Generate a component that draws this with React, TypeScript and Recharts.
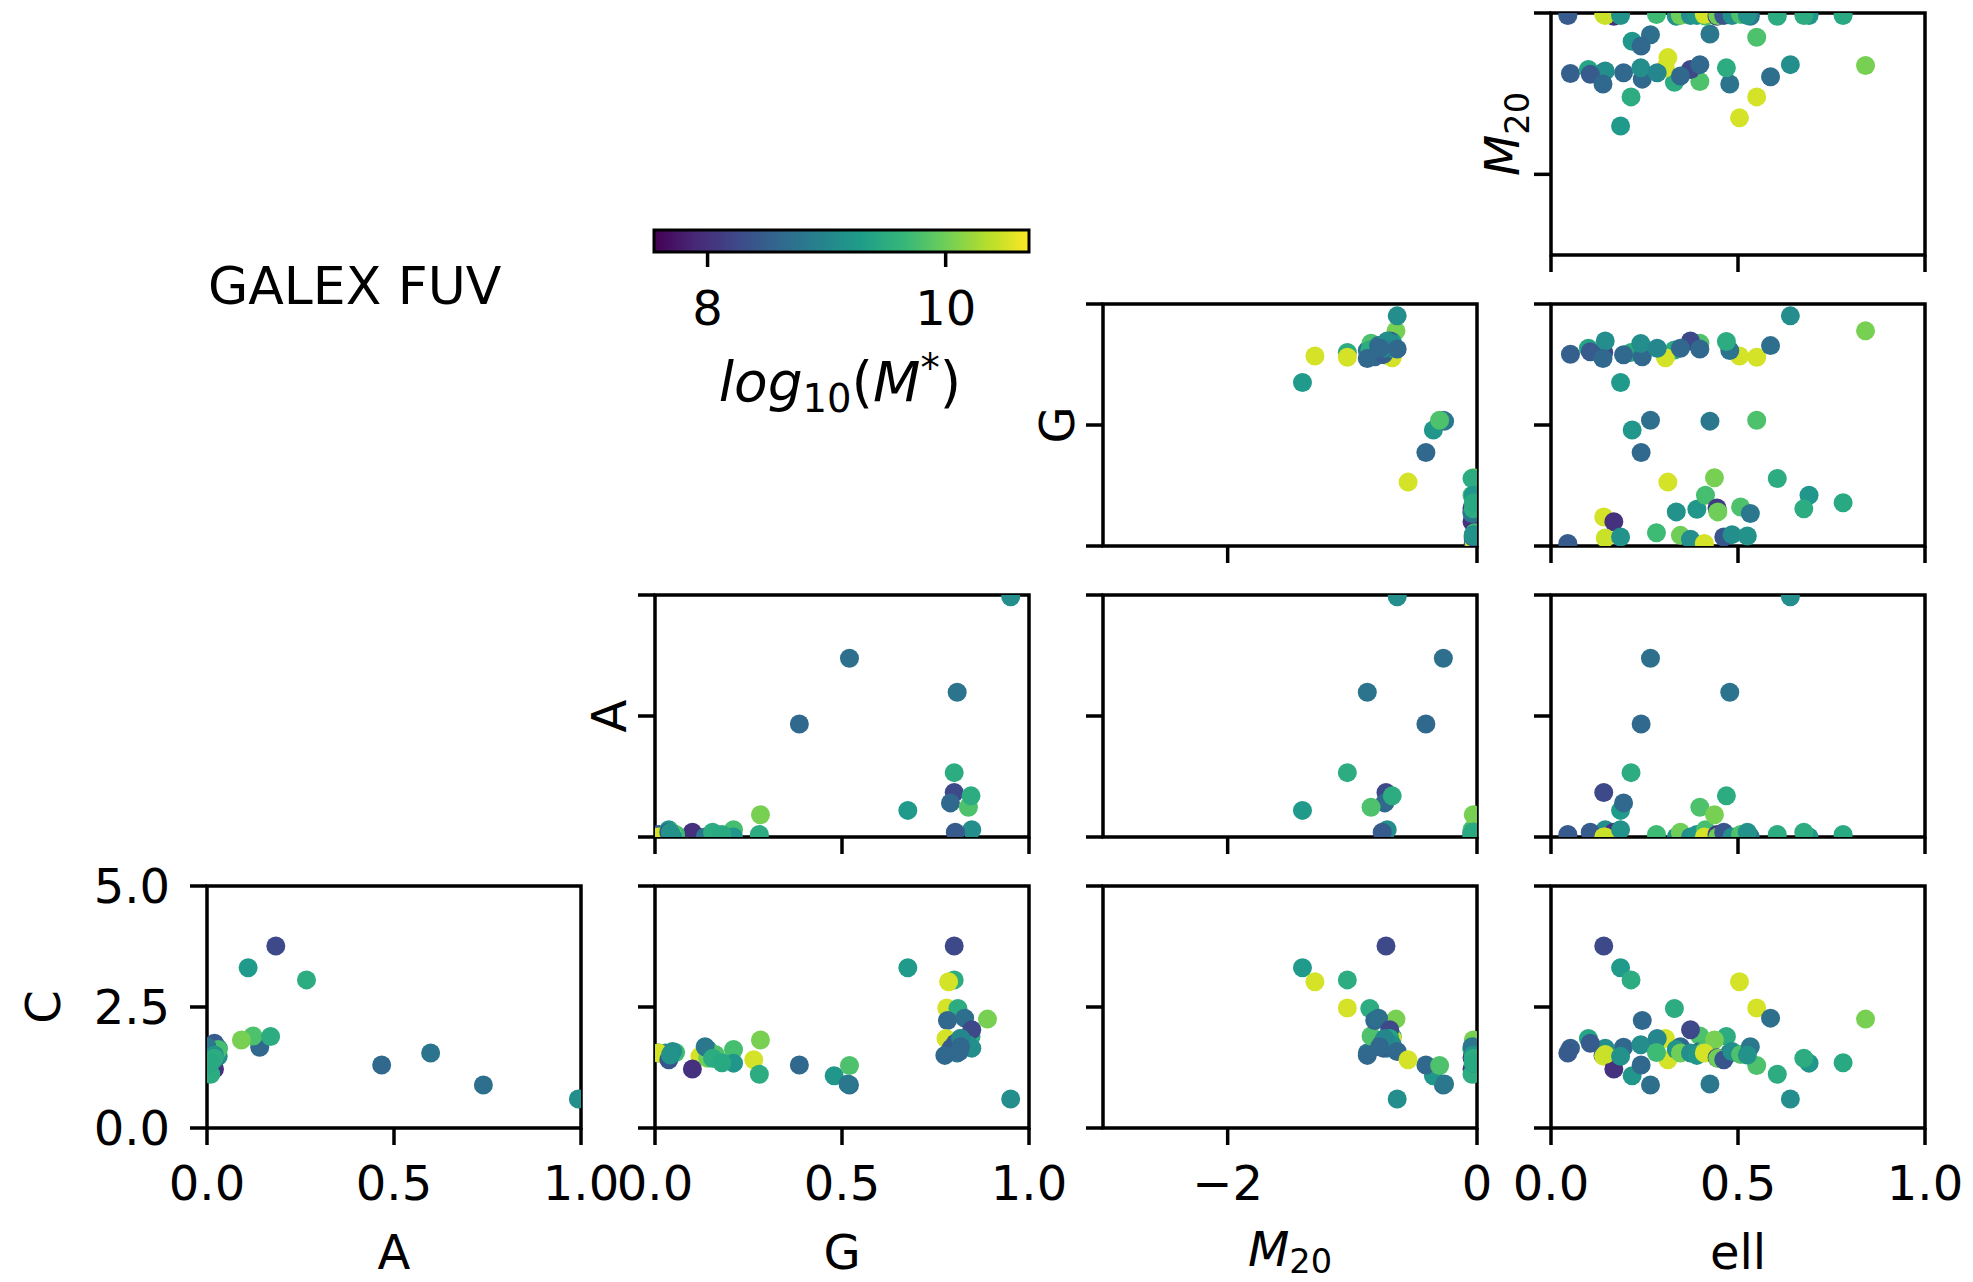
import { ScatterChart, Scatter, XAxis, YAxis, ReferenceArea } from 'recharts';

// one entry per galaxy: concentration, asymmetry, Gini, M20, ellipticity, log10 stellar mass
const C_VAL = [
  3.76, 3.31, 3.06, 3.02, 2.48, 2.25, 0.6, 1.55, 1.67, 1.9,
  1.89, 2.47, 2.22, 2.27, 1.85, 2.03, 1.65, 1.65, 1.85, 1.75,
  1.5, 1.72, 1.85, 1.68, 1.58,
  0.89, 1.08, 1.3, 0.91, 1.29, 1.41,
  1.55, 1.48, 1.22, 1.52, 1.48, 1.56, 1.62, 1.55, 1.55, 1.5,
  1.62, 1.82, 1.55, 1.45, 1.44, 1.41, 1.58, 1.52, 1.68, 1.51,
  1.11, 1.34, 1.44, 1.35,
];
const A_VAL = [
  0.184, 0.11, 0.266, -0.1, -0.1, -0.1, 0.993, 0.598, 0.141, 0.123,
  0.17, -0.1, -0.1, -0.1, -0.1, -0.1, 0.03, -0.1, -0.1, 0.02,
  -0.1, -0.1, -0.1, -0.1, -0.1,
  0.739, -0.1, 0.467, -0.1, -0.1, -0.1,
  0.01, 0.0, 0.02, 0.0, 0.03, 0.01, 0.0, 0.02, 0.0, 0.01,
  0.03, 0.092, 0.0, 0.01, 0.0, 0.02, 0.0, 0.01, 0.0, 0.02,
  0.01, 0.0, 0.02, 0.01,
];
const G_VAL = [
  0.8, 0.676, 0.8, 0.785, 0.78, 0.889, 0.951, 0.808, 0.79, 0.838,
  0.845, 0.81, 0.782, 0.828, 0.778, 0.847, 0.847, 0.792, 0.817, 0.803,
  0.775, 0.837, 0.817, 0.817, 0.814,
  0.52, 0.479, 0.386, 0.516, 0.52, 0.264,
  0.01, 0.12, 0.1, 0.033, 0.037, 0.055, 0.141, 0.044, 0.028, 0.152,
  0.21, 0.282, 0.01, 0.157, 0.141, 0.037, 0.047, 0.161, 0.134, 0.041,
  0.279, 0.21, 0.154, 0.179,
];
const M20_VAL = [
  -0.73, -1.4, -1.04, -1.3, -1.04, -0.65, -0.64, -0.88, -0.74, -0.85,
  -0.68, -0.86, -0.82, -0.79, -0.68, -0.7, -0.72, -0.75, -0.7, -0.76,
  -0.88, -0.68, -0.74, -0.78, -0.64,
  -0.27, -0.35, -0.41, -0.26, -0.3, -0.553,
  -0.03, -0.02, -0.04, -0.03, -0.03, -0.02, -0.04, -0.03, -0.03, -0.03,
  -0.04, -0.03, -0.02, -0.04, -0.03, -0.03, -0.03, -0.02, -0.04, -0.03,
  -0.04, -0.03, -0.03, -0.03,
];
const ELL_VAL = [
  0.141, 0.186, 0.214, 0.504, 0.55, 0.841, 0.64, 0.478, 0.194, 0.398,
  0.469, 0.33, 0.244, 0.587, 0.306, 0.373, 0.145, 0.052, 0.1, 0.105,
  0.139, 0.24, 0.284, 0.346, 0.398,
  0.266, 0.217, 0.241, 0.425, 0.55, 0.3125,
  0.045, 0.141, 0.168, 0.145, 0.186, 0.282, 0.335, 0.346, 0.373, 0.39,
  0.413, 0.437, 0.41, 0.444, 0.446, 0.462, 0.484, 0.507, 0.533, 0.525,
  0.605, 0.69, 0.676, 0.781,
];
const LOGM = [
  8.25, 9.25, 9.5, 10.5, 10.5, 10.05, 9.1, 8.75, 8.6, 9.8,
  9.5, 9.5, 8.6, 8.7, 10.5, 8.25, 9.1, 8.5, 9.4, 8.45,
  8.6, 9.1, 9.0, 8.6, 8.6,
  8.7, 9.2, 8.6, 8.8, 9.8, 10.5,
  8.45, 10.5, 8.0, 10.45, 9.15, 9.7, 9.15, 10.0, 9.1, 9.2,
  9.75, 10.05, 10.5, 8.1, 10.0, 8.4, 9.1, 9.8, 8.8, 9.15,
  9.5, 9.2, 9.5, 9.45,
];

const TICKS_UNIT = [0, 0.5, 1];
const TICKS_M20 = [-2, 0];
const TICKS_C = [0, 2.5, 5];
const CBAR_TICKS = [8, 10];
const MASS_RANGE: [number, number] = [7.55, 10.7];

const VIRIDIS = ['#440154', '#482878', '#3e4989', '#31688e', '#26828e', '#1f9e89', '#35b779', '#6ece58', '#b5de2b', '#fde725'];

type VarKey = 'C' | 'A' | 'G' | 'M20' | 'ell';
const SERIES: Record<VarKey, number[]> = { C: C_VAL, A: A_VAL, G: G_VAL, M20: M20_VAL, ell: ELL_VAL };
const DOMAINS: Record<VarKey, [number, number]> = { C: [0, 5], A: [0, 1], G: [0, 1], M20: [-3, 0], ell: [0, 1] };
const TICKS: Record<VarKey, number[]> = { C: TICKS_C, A: TICKS_UNIT, G: TICKS_UNIT, M20: TICKS_M20, ell: TICKS_UNIT };

const COL_VARS: VarKey[] = ['A', 'G', 'M20', 'ell'];
const ROW_VARS: VarKey[] = ['M20', 'G', 'A', 'C'];

// layout (px)
const COL_LEFT = [207, 655, 1103, 1551];
const ROW_TOP = [13, 304, 595, 886];
const PW = 374;
const PH = 242;
const PAD_L = 130;
const PAD_R = 60;
const PAD_B = 110;
const FONT = 'DejaVu Sans';
const FS = 48;
const LINE_W = 3.5;

const hexToRgb = (h: string) => [1, 3, 5].map(i => parseInt(h.slice(i, i + 2), 16));

function massColor(m: number) {
  const t = Math.min(1, Math.max(0, (m - MASS_RANGE[0]) / (MASS_RANGE[1] - MASS_RANGE[0])));
  const p = t * (VIRIDIS.length - 1);
  const i = Math.min(VIRIDIS.length - 2, Math.floor(p));
  const f = p - i;
  const a = hexToRgb(VIRIDIS[i]);
  const b = hexToRgb(VIRIDIS[i + 1]);
  const c = a.map((v, k) => Math.round(v + (b[k] - v) * f));
  return `rgb(${c[0]},${c[1]},${c[2]})`;
}

const fmtTick = (k: VarKey, v: number) => {
  if (k === 'M20') return v < 0 ? `\u2212${Math.abs(v)}` : `${v}`;
  return v.toFixed(1);
};

const hiddenTick = () => <g />;

function Panel({ row, col }: { row: number; col: number }) {
  const xKey = COL_VARS[col];
  const yKey = ROW_VARS[row];
  const data = LOGM.map((m, i) => ({ x: SERIES[xKey][i], y: SERIES[yKey][i], m }));
  const showX = row === 3;
  const showY = col === 0;
  const [x0, x1] = DOMAINS[xKey];
  const [y0, y1] = DOMAINS[yKey];
  // top row sits close to the page edge, the others get room for the top tick label
  const padT = row === 0 ? 13 : 40;

  const xTick = (p: any) => (
    <text x={p.x} y={p.y} dy="0.71em" textAnchor="middle" fontSize={FS} fontFamily={FONT} fill="#000">
      {fmtTick(xKey, p.payload.value)}
    </text>
  );
  const yTick = (p: any) => (
    <text x={p.x} y={p.y} dy="0.355em" textAnchor="end" fontSize={FS} fontFamily={FONT} fill="#000">
      {fmtTick(yKey, p.payload.value)}
    </text>
  );

  return (
    <div style={{ position: 'absolute', left: COL_LEFT[col] - PAD_L, top: ROW_TOP[row] - padT }}>
      <ScatterChart
        width={PAD_L + PW + PAD_R}
        height={padT + PH + PAD_B}
        margin={{ top: padT, right: PAD_R, bottom: 0, left: 0 }}
      >
        <XAxis
          type="number"
          dataKey="x"
          domain={[x0, x1]}
          ticks={TICKS[xKey]}
          allowDataOverflow
          interval={0}
          height={PAD_B}
          axisLine={false}
          tickLine={{ stroke: '#000', strokeWidth: LINE_W }}
          tickSize={17}
          tickMargin={21}
          tick={showX ? xTick : hiddenTick}
        />
        <YAxis
          type="number"
          dataKey="y"
          domain={[y0, y1]}
          ticks={TICKS[yKey]}
          allowDataOverflow
          interval={0}
          width={PAD_L}
          axisLine={false}
          tickLine={{ stroke: '#000', strokeWidth: LINE_W }}
          tickSize={17}
          tickMargin={20}
          tick={showY ? yTick : hiddenTick}
        />
        <Scatter
          data={data}
          isAnimationActive={false}
          shape={(p: any) => <circle cx={p.cx} cy={p.cy} r={9.5} fill={massColor(p.payload.m)} />}
        />
        <ReferenceArea x1={x0} x2={x1} y1={y0} y2={y1} fill="none" stroke="#000" strokeWidth={LINE_W} />
      </ScatterChart>
    </div>
  );
}

function Colorbar() {
  const left = 654;
  const top = 230;
  const w = 375;
  const h = 22;
  // the tick values give the chart something to scale; the markers themselves are not drawn
  const data = CBAR_TICKS.map(v => ({ x: v, y: 0.5 }));
  const cbTick = (p: any) => (
    <text x={p.x} y={p.y} dy="0.71em" textAnchor="middle" fontSize={FS} fontFamily={FONT} fill="#000">
      {p.payload.value}
    </text>
  );
  return (
    <div style={{ position: 'absolute', left: left - 40, top: top - 10 }}>
      <ScatterChart width={w + 80} height={h + 10 + 110} margin={{ top: 10, right: 40, bottom: 0, left: 40 }}>
        <XAxis
          type="number"
          dataKey="x"
          domain={MASS_RANGE}
          ticks={CBAR_TICKS}
          allowDataOverflow
          interval={0}
          height={110}
          axisLine={false}
          tickLine={{ stroke: '#000', strokeWidth: LINE_W }}
          tickSize={15}
          tickMargin={24}
          tick={cbTick}
        />
        <YAxis type="number" dataKey="y" domain={[0, 1]} allowDataOverflow hide />
        <Scatter data={data} isAnimationActive={false} shape={() => <g />} />
        <ReferenceArea
          x1={MASS_RANGE[0]}
          x2={MASS_RANGE[1]}
          y1={0}
          y2={1}
          fill="url(#viridis-cbar)"
          fillOpacity={1}
          stroke="#000"
          strokeWidth={3}
        />
      </ScatterChart>
    </div>
  );
}

export default function App() {
  const panels: { row: number; col: number }[] = [];
  for (let r = 0; r < 4; r++) {
    for (let c = 3 - r; c < 4; c++) panels.push({ row: r, col: c });
  }
  const colCenter = (c: number) => COL_LEFT[c] + PW / 2;
  const rowCenter = (r: number) => ROW_TOP[r] + PH / 2;
  const sub = FS * 0.7;
  const cbFs = 55;

  return (
    <div style={{ position: 'absolute', left: 0, top: 0, width: 1973, height: 1282, background: '#fff', fontFamily: FONT }}>
      <svg width={0} height={0} style={{ position: 'absolute' }}>
        <defs>
          <linearGradient id="viridis-cbar" x1="0" x2="1" y1="0" y2="0">
            {VIRIDIS.map((c, i) => (
              <stop key={c} offset={`${(i / (VIRIDIS.length - 1)) * 100}%`} stopColor={c} />
            ))}
          </linearGradient>
        </defs>
      </svg>

      {panels.map(p => (
        <Panel key={`${p.row}-${p.col}`} row={p.row} col={p.col} />
      ))}

      <Colorbar />

      <svg width={1973} height={1282} style={{ position: 'absolute', left: 0, top: 0, pointerEvents: 'none' }}>
        <g fontFamily={FONT} fill="#000">
          <text x={208} y={304} fontSize={52}>GALEX FUV</text>

          <text x={840} y={401} fontSize={cbFs} textAnchor="middle">
            <tspan fontStyle="italic">log</tspan>
            <tspan fontSize={cbFs * 0.7} dy={11}>10</tspan>
            <tspan dy={-11}>(</tspan>
            <tspan fontStyle="italic">M</tspan>
            <tspan fontSize={cbFs * 0.7} dy={-20}>*</tspan>
            <tspan dy={20}>)</tspan>
          </text>

          {/* bottom axis titles */}
          <text x={colCenter(0)} y={1269} fontSize={FS} textAnchor="middle">A</text>
          <text x={colCenter(1)} y={1269} fontSize={FS} textAnchor="middle">G</text>
          <text x={colCenter(2)} y={1266} fontSize={FS} textAnchor="middle">
            <tspan fontStyle="italic">M</tspan>
            <tspan fontSize={sub} dy={7}>20</tspan>
          </text>
          <text x={colCenter(3)} y={1269} fontSize={FS} textAnchor="middle">ell</text>

          {/* row titles */}
          <text x={1519} y={rowCenter(0)} fontSize={FS} textAnchor="middle" transform={`rotate(-90, 1519, ${rowCenter(0)})`}>
            <tspan fontStyle="italic">M</tspan>
            <tspan fontSize={sub} dy={10}>20</tspan>
          </text>
          <text x={1074} y={rowCenter(1)} fontSize={FS} textAnchor="middle" transform={`rotate(-90, 1074, ${rowCenter(1)})`}>G</text>
          <text x={626} y={rowCenter(2)} fontSize={FS} textAnchor="middle" transform={`rotate(-90, 626, ${rowCenter(2)})`}>A</text>
          <text x={60} y={rowCenter(3)} fontSize={FS} textAnchor="middle" transform={`rotate(-90, 60, ${rowCenter(3)})`}>C</text>
        </g>
      </svg>
    </div>
  );
}
